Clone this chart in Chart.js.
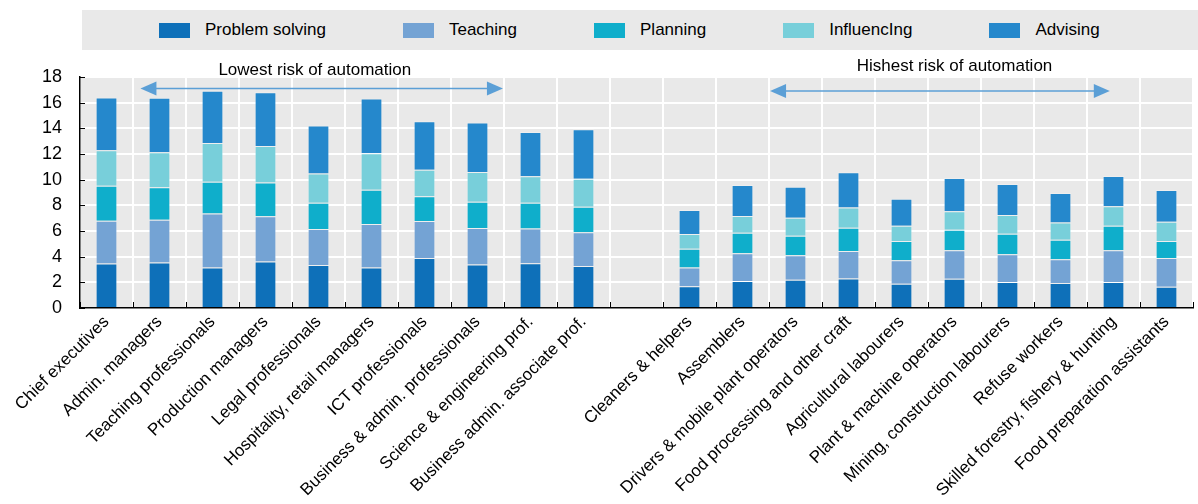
<!DOCTYPE html>
<html>
<head>
<meta charset="utf-8">
<script src="https://cdn.jsdelivr.net/npm/chart.js@4.4.1/dist/chart.umd.min.js"></script>
<style>
  html, body { margin: 0; padding: 0; background: #fff; }
  #wrap { position: relative; width: 1198px; height: 504px; font-family: "Liberation Sans", Arial, sans-serif; }
  #legend { position: absolute; left: 82px; top: 10px; width: 1116px; height: 40px; background: #e9e9e9;
            display: flex; align-items: center; padding-left: 77px; box-sizing: border-box; }
  .item { display: flex; align-items: center; margin-right: 77px; font-size: 17px; color: #000; }
  .box { width: 31px; height: 15px; margin-right: 15px; }
  canvas { position: absolute; left: 0; top: 0; }
</style>
</head>
<body>
<div id="wrap">
  <canvas id="chart" width="1198" height="504"></canvas>
  <div id="legend"></div>
</div>
<script>
// categories (empty slot separates the two groups)
const aLabels = [
    "Chief executives", "Admin. managers", "Teaching professionals", "Production managers",
    "Legal professionals", "Hospitality, retail managers", "ICT professionals",
    "Business & admin. professionals", "Science & engineering prof.", "Business admin. associate prof.",
    "",
    "Cleaners & helpers", "Assemblers", "Drivers & mobile plant operators",
    "Food processing and other craft", "Agricultural labourers", "Plant & machine operators",
    "Mining, construction labourers", "Refuse workers", "Skilled forestry, fishery & hunting",
    "Food preparation assistants"
];

const aProblemSolving = [3.46, 3.54, 3.15, 3.62, 3.36, 3.15, 3.90, 3.39, 3.49, 3.28, null,
                         1.69, 2.11, 2.21, 2.29, 1.88, 2.27, 2.03, 1.95, 2.03, 1.66];
const aTeaching       = [3.34, 3.34, 4.22, 3.52, 2.79, 3.39, 2.87, 2.84, 2.71, 2.63, null,
                         1.46, 2.16, 1.90, 2.16, 1.84, 2.23, 2.16, 1.85, 2.47, 2.24];
const aPlanning       = [2.73, 2.52, 2.47, 2.63, 2.05, 2.68, 1.93, 2.05, 2.00, 1.98, null,
                         1.46, 1.59, 1.52, 1.80, 1.51, 1.59, 1.59, 1.51, 1.91, 1.33];
const aInfluencing    = [2.77, 2.74, 3.02, 2.86, 2.29, 2.84, 2.08, 2.32, 2.07, 2.19, null,
                         1.15, 1.30, 1.40, 1.59, 1.18, 1.44, 1.46, 1.35, 1.51, 1.49];
const aAdvising       = [4.10, 4.24, 4.07, 4.19, 3.73, 4.27, 3.78, 3.85, 3.45, 3.85, null,
                         1.87, 2.42, 2.42, 2.73, 2.11, 2.60, 2.42, 2.30, 2.37, 2.47];

const aSeriesNames  = ["Problem solving", "Teaching", "Planning", "InfluencIng", "Advising"];
const aSeriesColors = ["#0e70b9", "#74a3d4", "#0faecb", "#78cfda", "#2588cc"];
const aYTicks = [0, 2, 4, 6, 8, 10, 12, 14, 16, 18];

// 화살표 주석 (category index / value 기준)
const aNotes = [
    { text: "Lowest risk of automation",  tx: 3.93,  ty: 18.55, x1: 0.64,  x2: 7.48,  y: 17.1 },
    { text: "Hishest risk of automation", tx: 16.0,  ty: 18.85, x1: 12.52, x2: 18.93, y: 16.9 }
];

// legend (html)
const oLegend = document.getElementById("legend");
aSeriesNames.forEach((sName, i) => {
    const oItem = document.createElement("div");
    oItem.className = "item";
    oItem.innerHTML = `<div class="box" style="background:${aSeriesColors[i]}"></div><span>${sName}</span>`;
    oLegend.appendChild(oItem);
});

const aData = [aProblemSolving, aTeaching, aPlanning, aInfluencing, aAdvising];

const plotBg = {
    id: "plotBg",
    beforeDraw(chart) {
        const { ctx, chartArea: a } = chart;
        ctx.save();
        ctx.fillStyle = "#e9e9e9";
        ctx.fillRect(a.left, a.top, a.right - a.left, a.bottom - a.top);
        ctx.restore();
    }
};

const extras = {
    id: "extras",
    afterDraw(chart) {
        const { ctx, chartArea: a } = chart;
        const x = chart.scales.x, y = chart.scales.y;
        ctx.save();
        // inward ticks
        ctx.strokeStyle = "#000";
        ctx.lineWidth = 1;
        const fSlot = x.getPixelForValue(1) - x.getPixelForValue(0);
        for (let i = 0; i <= aLabels.length; i++) {
            const px = Math.round(x.getPixelForValue(i) - fSlot / 2) + 0.5;
            ctx.beginPath(); ctx.moveTo(px, a.bottom); ctx.lineTo(px, a.bottom - 6); ctx.stroke();
        }
        aYTicks.forEach(v => {
            const py = Math.round(y.getPixelForValue(v)) + 0.5;
            ctx.beginPath(); ctx.moveTo(a.left, py); ctx.lineTo(a.left + 5, py); ctx.stroke();
        });
        // annotations
        aNotes.forEach(n => {
            ctx.fillStyle = "#000";
            ctx.font = "17px 'Liberation Sans', Arial, sans-serif";
            ctx.textAlign = "center";
            ctx.textBaseline = "middle";
            ctx.fillText(n.text, x.getPixelForValue(n.tx), y.getPixelForValue(n.ty));
            const px1 = x.getPixelForValue(n.x1), px2 = x.getPixelForValue(n.x2);
            const py = y.getPixelForValue(n.y);
            ctx.strokeStyle = "#5b9fd6";
            ctx.fillStyle = "#5b9fd6";
            ctx.lineWidth = 1.5;
            ctx.beginPath(); ctx.moveTo(px1 + 10, py); ctx.lineTo(px2 - 10, py); ctx.stroke();
            ctx.beginPath(); ctx.moveTo(px1, py); ctx.lineTo(px1 + 16, py - 7); ctx.lineTo(px1 + 16, py + 7); ctx.closePath(); ctx.fill();
            ctx.beginPath(); ctx.moveTo(px2, py); ctx.lineTo(px2 - 16, py - 7); ctx.lineTo(px2 - 16, py + 7); ctx.closePath(); ctx.fill();
        });
        ctx.restore();
    }
};

new Chart(document.getElementById("chart").getContext("2d"), {
    type: "bar",
    data: {
        labels: aLabels,
        datasets: aData.map((aVals, i) => ({
            label: aSeriesNames[i],
            data: aVals,
            backgroundColor: aSeriesColors[i],
            borderColor: "rgba(255,255,255,0.25)",
            borderWidth: 1,
            barPercentage: 0.41,
            categoryPercentage: 1
        }))
    },
    options: {
        responsive: false,
        animation: false,
        layout: { padding: { top: 77, right: 5, left: 0, bottom: 0 } },
        plugins: { legend: { display: false }, tooltip: { enabled: false } },
        scales: {
            x: {
                stacked: true,
                grid: { color: "#ffffff", lineWidth: 2, drawTicks: false, offset: true },
                border: { color: "#000", width: 1.5 },
                ticks: {
                    autoSkip: false, minRotation: 45, maxRotation: 45, padding: 4,
                    color: "#000", font: { family: "'Liberation Sans', Arial, sans-serif", size: 17 }
                },
                afterFit: s => { s.height = 196; }
            },
            y: {
                stacked: true,
                min: 0, max: 18,
                grid: { color: "#ffffff", lineWidth: 2, drawTicks: false },
                border: { color: "#000", width: 1.5 },
                ticks: {
                    stepSize: 2, padding: 18, color: "#000",
                    font: { family: "'Liberation Sans', Arial, sans-serif", size: 18 }
                },
                afterFit: s => { s.width = 80; }
            }
        }
    },
    plugins: [plotBg, extras]
});
</script>
</body>
</html>
